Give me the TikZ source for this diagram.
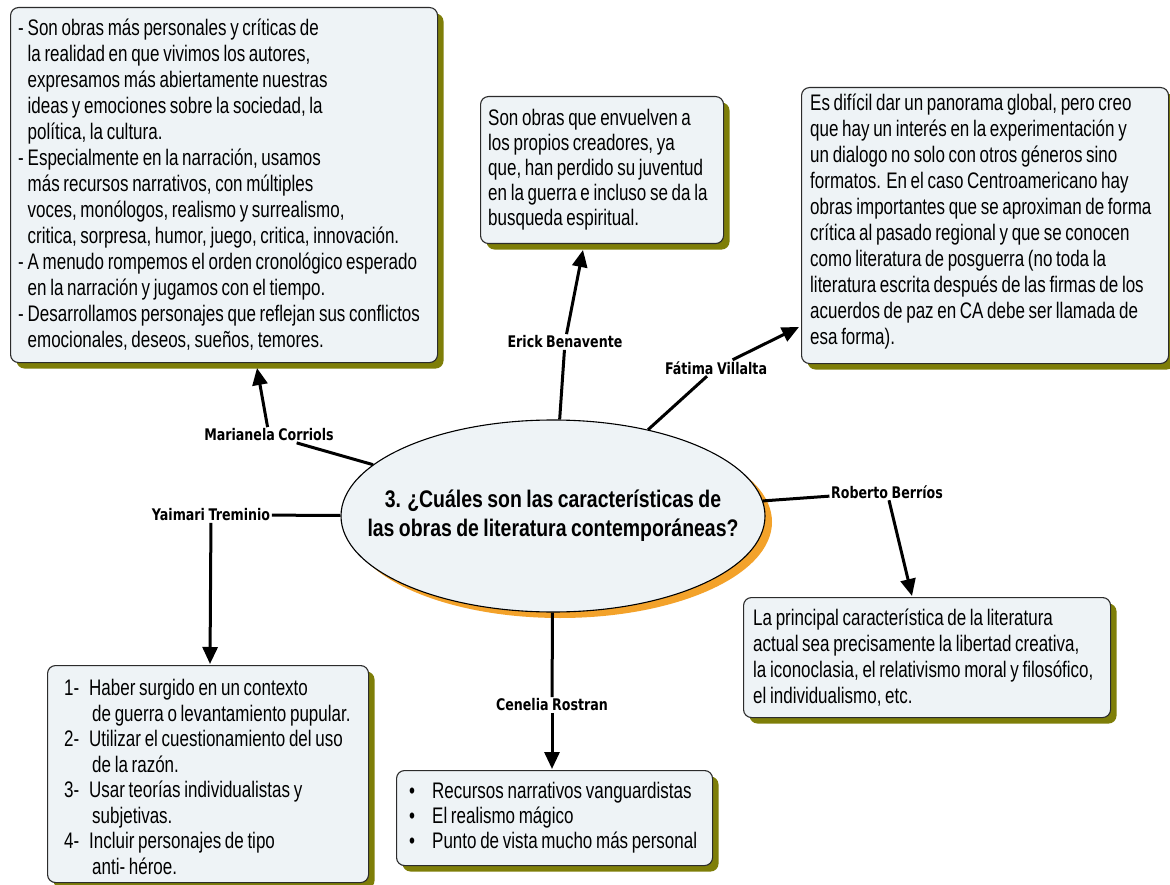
\documentclass[tikz,border=0pt]{standalone}
\usepackage{fontspec}
\setmainfont{Liberation Sans}[FakeStretch=0.755,WordSpace=0.78]
\newfontfamily\namefont{DejaVu Sans}[FakeStretch=0.79,WordSpace=0.8]
\newfontfamily\titlefont{Liberation Sans}[FakeStretch=0.81,WordSpace=0.82]
\usetikzlibrary{arrows.meta,shapes.geometric,shadows}
\definecolor{boxfill}{HTML}{EEF3F6}
\definecolor{boxline}{HTML}{2B2B2B}
\definecolor{olivesh}{HTML}{7E7E08}
\definecolor{orangesh}{HTML}{F3A22A}
\newcommand\bxdash{\makebox[9.5pt][l]{-}}
\newcommand\bxind{\hspace*{9.5pt}}
\newcommand\bxnum[1]{\makebox[25pt][l]{#1}}
\newcommand\bxnind{\hspace*{28pt}}
\newcommand\bxbul{\makebox[23pt][l]{\textbullet}}
\tikzset{
  textbox/.style={draw=boxline, line width=1.1pt, fill=boxfill, rounded corners=8pt,
    anchor=north west, inner sep=0pt,
    drop shadow={shadow xshift=6pt, shadow yshift=-6pt, fill=olivesh, opacity=1, rounded corners=8pt}},
  boxtext/.style={anchor=west, align=left, inner sep=0pt,
    font=\fontsize{22.5}{26}\selectfont},
  namelab/.style={font=\namefont\bfseries\fontsize{16}{19}\selectfont, inner sep=1.5pt},
  conn/.style={line width=3pt, draw=black},
  arr/.style={line width=3pt, draw=black, -{Triangle[length=17pt,width=15pt]}},
}
\begin{document}
\begin{tikzpicture}[x=1pt,y=-1pt]
\fill[white] (0,0) rectangle (1170,885);
\useasboundingbox (0,0) rectangle (1170,885);

% boxes
\node[textbox, minimum width=427pt, minimum height=355pt] (b1) at (10,7) {};
\node[boxtext] (b1t) at ([xshift=8pt]b1.west) {%
\bxdash Son obras más personales y críticas de\\
\bxind la realidad en que vivimos los autores,\\
\bxind expresamos más abiertamente nuestras\\
\bxind ideas y emociones sobre la sociedad, la\\
\bxind política, la cultura.\\
\bxdash Especialmente en la narración, usamos\\
\bxind más recursos narrativos, con múltiples\\
\bxind voces, monólogos, realismo y surrealismo,\\
\bxind critica, sorpresa, humor, juego, critica, innovación.\\
\bxdash A menudo rompemos el orden cronológico esperado\\
\bxind en la narración y jugamos con el tiempo.\\
\bxdash Desarrollamos personajes que reflejan sus conflictos\\
\bxind emocionales, deseos, sueños, temores.};

\node[textbox, minimum width=243pt, minimum height=147pt] (b2) at (480,96) {};
\node[boxtext, font=\fontsize{22.5}{25}\selectfont] (b2t) at ([xshift=8pt]b2.west) {%
Son obras que envuelven a\\
los propios creadores, ya\\
que, han perdido su juventud\\
en la guerra e incluso se da la\\
busqueda espiritual.};

\node[textbox, minimum width=367pt, minimum height=276pt] (b3) at (801,87) {};
\node[boxtext] (b3t) at ([xshift=9pt,yshift=4pt]b3.west) {%
Es difícil dar un panorama global, pero creo\\
que hay un interés en la experimentación y\\
un dialogo no solo con otros géneros sino\\
formatos. En el caso Centroamericano hay\\
obras importantes que se aproximan de forma\\
crítica al pasado regional y que se conocen\\
como literatura de posguerra (no toda la\\
literatura escrita después de las firmas de los\\
acuerdos de paz en CA debe ser llamada de\\
esa forma).};

\node[textbox, minimum width=367pt, minimum height=120pt] (b4) at (743,597) {};
\node[boxtext] (b4t) at ([xshift=10pt]b4.west) {%
La principal característica de la literatura\\
actual sea precisamente la libertad creativa,\\
la iconoclasia, el relativismo moral y filosófico,\\
el individualismo, etc.};

\node[textbox, minimum width=316pt, minimum height=95pt] (b5) at (396,770) {};
\node[boxtext, font=\fontsize{22.5}{25}\selectfont] (b5t) at ([xshift=13pt]b5.west) {%
\bxbul Recursos narrativos vanguardistas\\
\bxbul El realismo mágico\\
\bxbul Punto de vista mucho más personal};

\node[textbox, minimum width=321pt, minimum height=217pt] (b6) at (47,665) {};
\node[boxtext, font=\fontsize{22.5}{25.5}\selectfont] (b6t) at ([xshift=17pt,yshift=-3pt]b6.west) {%
\bxnum{1-}Haber surgido en un contexto\\
\bxnind de guerra o levantamiento pupular.\\
\bxnum{2-}Utilizar el cuestionamiento del uso\\
\bxnind de la razón.\\
\bxnum{3-}Usar teorías individualistas y\\
\bxnind subjetivas.\\
\bxnum{4-}Incluir personajes de tipo\\
\bxnind anti- héroe.};

% central ellipse
\node[ellipse, draw=black, line width=1.1pt, fill=boxfill, minimum width=424pt, minimum height=192pt,
  inner sep=0pt,
  drop shadow={shadow xshift=7pt, shadow yshift=-6pt, fill=orangesh, opacity=1}] (q) at (553,516) {};
\node[align=center, inner sep=0pt, font=\titlefont\bfseries\fontsize{24}{29}\selectfont] (qt) at (q.center)
  {3. ¿Cuáles son las características de\\las obras de literatura contemporáneas?};

% labels
\node[namelab] (mc) at (269,435) {Marianela Corriols};
\node[namelab] (eb) at (565,342) {Erick Benavente};
\node[namelab] (fv) at (716,368) {Fátima Villalta};
\node[namelab] (rb) at (887,492) {Roberto Berríos};
\node[namelab] (cr) at (552,705) {Cenelia Rostran};
\node[namelab] (yt) at (211,515) {Yaimari Treminio};

% arrow targets
\coordinate (t1) at (257,368);
\coordinate (t2) at (583,250);
\coordinate (t3) at (799,327);
\coordinate (t4) at (912,596);
\coordinate (t5) at (552,769);
\coordinate (t6) at (210,664);

% connectors
\draw[conn] (q) -- (mc);
\draw[arr] (mc) -- (t1);
\draw[conn] (q) -- (eb);
\draw[arr] (eb) -- (t2);
\draw[conn] (q) -- (fv);
\draw[arr] (fv) -- (t3);
\draw[conn] (q) -- (rb);
\draw[arr] (rb) -- (t4);
\draw[conn] (q) -- (cr);
\draw[arr] (cr) -- (t5);
\draw[conn] (q) -- (yt);
\draw[arr] (yt) -- (t6);
\end{tikzpicture}
\end{document}
